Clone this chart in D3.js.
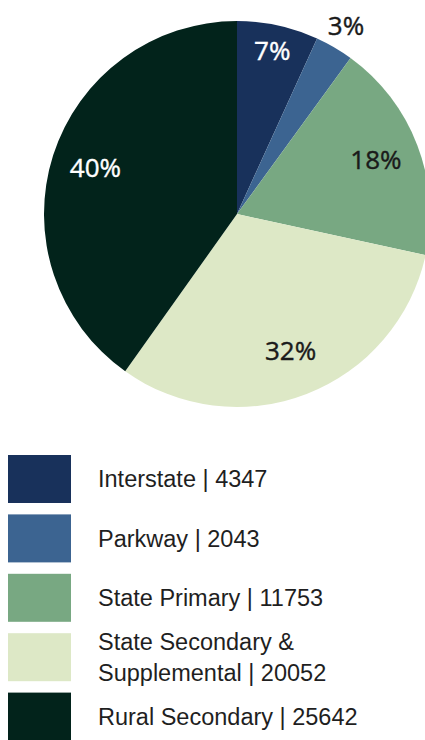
<!DOCTYPE html>
<html>
<head>
<meta charset="utf-8">
<script src="https://cdn.jsdelivr.net/npm/d3@7"></script>
<style>
  html, body { margin: 0; padding: 0; background: #ffffff; }
  svg { display: block; }
</style>
</head>
<body>
<svg id="chart" width="425" height="740"></svg>
<script>
// Road categories and their counts
const categories = ["Interstate", "Parkway", "State Primary", "State Secondary & Supplemental", "Rural Secondary"];
const legendLines = [["Interstate | 4347"], ["Parkway | 2043"], ["State Primary | 11753"], ["State Secondary &", "Supplemental | 20052"], ["Rural Secondary | 25642"]];
const values = [4347, 2043, 11753, 20052, 25642];
const colors = ["#18315b", "#3c6491", "#78a882", "#dde8c6", "#02231b"];
const labelColors = ["#ffffff", "#1a1a1a", "#1a1a1a", "#1a1a1a", "#ffffff"];

// Whole-number percentages that add up to 100 (largest remainder)
function roundedPercents(vals) {
  const total = d3.sum(vals);
  const raw = vals.map(v => v / total * 100);
  const out = raw.map(Math.floor);
  let left = 100 - d3.sum(out);
  const order = d3.range(vals.length).sort((a, b) => (raw[b] - out[b]) - (raw[a] - out[a]));
  for (let i = 0; i < left; i++) out[order[i]] += 1;
  return out;
}
const percents = roundedPercents(values);

const svg = d3.select("#chart");
const cx = 237, cy = 214, r = 193;

const pie = d3.pie().sort(null).value(d => d);
const arcs = pie(values);
const arc = d3.arc().innerRadius(0).outerRadius(r);

const g = svg.append("g").attr("transform", `translate(${cx},${cy})`);
g.selectAll("path.slice")
  .data(arcs)
  .join("path")
  .attr("class", "slice")
  .attr("d", arc)
  .attr("fill", (d, i) => colors[i]);

// Label radius depends on slice size: tiny slices sit outside the pie
const total = d3.sum(values);
function labelRadius(d) {
  const share = d.value / total;
  if (share < 0.05) return r * 1.12;
  if (share < 0.1) return r * 0.86;
  return r * 0.77;
}
g.selectAll("text.pct")
  .data(arcs)
  .join("text")
  .attr("class", "pct")
  .attr("transform", d => {
    const a = (d.startAngle + d.endAngle) / 2;
    const lr = labelRadius(d);
    return `translate(${Math.sin(a) * lr},${-Math.cos(a) * lr})`;
  })
  .attr("text-anchor", "middle")
  .attr("dy", "0.3em")
  .attr("font-family", "'Open Sans', 'Noto Sans', sans-serif")
  .attr("font-size", 26)
  .attr("fill", (d, i) => labelColors[i])
  .attr("stroke", (d, i) => labelColors[i])
  .attr("stroke-width", 0.4)
  .text((d, i) => percents[i] + "%");

// Legend
const legendTop = 455, rowStep = 59.4, swW = 63, swH = 48, swX = 8, textX = 98;
const lineH = 31;
const rows = svg.append("g").selectAll("g.row")
  .data(categories)
  .join("g")
  .attr("class", "row")
  .attr("transform", (d, i) => `translate(0,${legendTop + i * rowStep})`);

rows.append("rect")
  .attr("x", swX).attr("y", 0)
  .attr("width", swW).attr("height", swH)
  .attr("fill", (d, i) => colors[i]);

rows.append("text")
  .attr("font-family", "'Liberation Sans', Arial, sans-serif")
  .attr("font-size", 23.5)
  .attr("fill", "#1f1f1f")
  .each(function(d, i) {
    const lines = legendLines[i];
    const t = d3.select(this);
    const first = swH / 2 + 8.3 - (lines.length - 1) * lineH / 2;
    lines.forEach((ln, k) => {
      t.append("tspan").attr("x", textX).attr("y", first + k * lineH).text(ln);
    });
  });
</script>
</body>
</html>
